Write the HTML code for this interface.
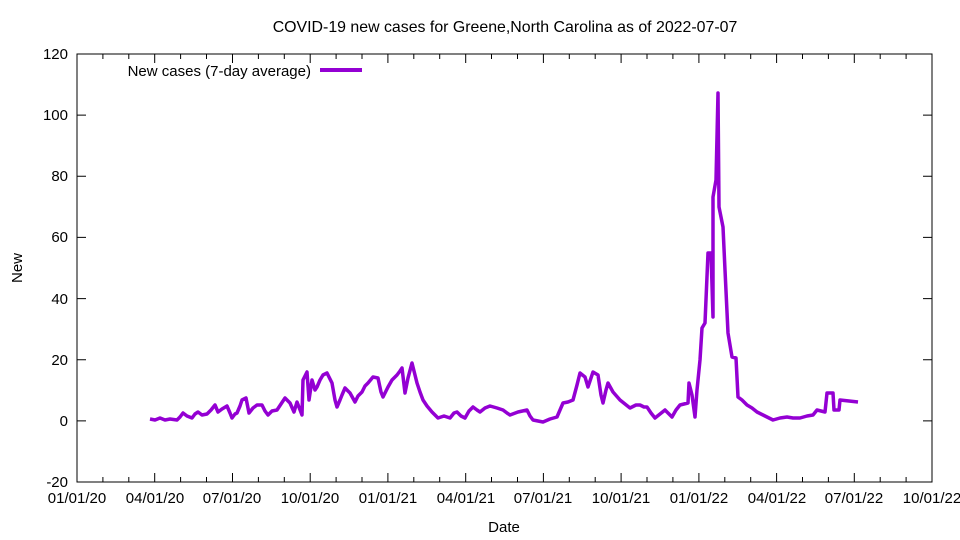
<!DOCTYPE html><html><head><style>body{margin:0;background:#fff}svg{display:block;font-family:"Liberation Sans",sans-serif}</style></head><body>
<svg width="960" height="540" xmlns="http://www.w3.org/2000/svg">
<rect width="960" height="540" fill="#fff"/>
<text x="505" y="32" font-size="15.9" text-anchor="middle">COVID-19 new cases for Greene,North Carolina as of 2022-07-07</text>
<g stroke="#000" stroke-width="1" fill="none">
<rect x="77" y="54" width="855" height="428"/>
<path d="M77 54v9M77 482v-9M154.7 54v9M154.7 482v-9M232.5 54v9M232.5 482v-9M310.2 54v9M310.2 482v-9M387.9 54v9M387.9 482v-9M465.7 54v9M465.7 482v-9M543.4 54v9M543.4 482v-9M621.1 54v9M621.1 482v-9M698.9 54v9M698.9 482v-9M776.6 54v9M776.6 482v-9M854.3 54v9M854.3 482v-9
M102.9 54v5M102.9 482v-5M128.8 54v5M128.8 482v-5M180.6 54v5M180.6 482v-5M206.5 54v5M206.5 482v-5M258.4 54v5M258.4 482v-5M284.3 54v5M284.3 482v-5M336.1 54v5M336.1 482v-5M362 54v5M362 482v-5M413.8 54v5M413.8 482v-5M439.7 54v5M439.7 482v-5M491.5 54v5M491.5 482v-5M517.5 54v5M517.5 482v-5M569.3 54v5M569.3 482v-5M595.2 54v5M595.2 482v-5M647 54v5M647 482v-5M672.9 54v5M672.9 482v-5M724.8 54v5M724.8 482v-5M750.7 54v5M750.7 482v-5M802.5 54v5M802.5 482v-5M828.4 54v5M828.4 482v-5M880.2 54v5M880.2 482v-5M906.1 54v5M906.1 482v-5
M77 115.1h9M932 115.1h-9M77 176.3h9M932 176.3h-9M77 237.4h9M932 237.4h-9M77 298.6h9M932 298.6h-9M77 359.7h9M932 359.7h-9M77 420.9h9M932 420.9h-9"/>
</g>
<g font-size="15" text-anchor="end">
<text x="68" y="59">120</text><text x="68" y="120">100</text><text x="68" y="181">80</text><text x="68" y="242">60</text><text x="68" y="304">40</text><text x="68" y="365">20</text><text x="68" y="426">0</text><text x="68" y="487">-20</text>
</g>
<g font-size="15" text-anchor="middle">
<text x="77" y="503">01/01/20</text><text x="155" y="503">04/01/20</text><text x="232" y="503">07/01/20</text><text x="310" y="503">10/01/20</text><text x="388" y="503">01/01/21</text><text x="466" y="503">04/01/21</text><text x="543" y="503">07/01/21</text><text x="621" y="503">10/01/21</text><text x="699" y="503">01/01/22</text><text x="777" y="503">04/01/22</text><text x="854" y="503">07/01/22</text><text x="932" y="503">10/01/22</text>
<text x="504" y="532">Date</text>
<text x="22" y="268" transform="rotate(-90 22 268)">New</text>
</g>
<text x="311" y="76" font-size="15" text-anchor="end">New cases (7-day average)</text>
<path d="M320 70h42" stroke="#9400d3" stroke-width="4"/>
<polyline fill="none" stroke="#9400d3" stroke-width="3.5" stroke-linejoin="round" points="150,419 155,420 160,418 165,420 170,419 177,420 180,417 183,413 187,416 192,418 195,414 198,412 202,415 207,414 211,410 215,405 218,412 222,409 227,406 230,413 232,418 235,414 237,413 240,406 242,400 246,398 249,413 253,408 257,405 262,405 265,411 268,415 272,411 277,410 281,404 285,398 290,403 294,412 297,402 302,415 303,380 307,372 309,400 312,380 315,390 317,387 320,380 323,375 327,373 332,383 335,400 337,407 340,400 342,395 345,388 350,393 355,402 358,396 362,392 365,386 368,383 373,377 378,378 381,392 383,397 388,387 392,380 397,375 400,371 402,368 405,393 408,378 412,363 415,375 417,383 420,392 423,400 427,406 432,412 438,418 444,416 450,418 454,413 457,412 461,416 465,418 469,411 473,407 477,410 480,412 485,408 490,406 497,408 503,410 507,413 510,415 518,412 527,410 530,416 533,420 538,421 543,422 550,419 557,417 560,410 563,403 568,402 573,400 577,385 580,373 585,377 588,387 593,372 598,375 601,395 603,403 606,390 608,383 613,392 620,400 625,404 630,408 636,405 640,405 644,407 647,407 651,413 655,418 660,414 665,410 669,414 672,417 676,410 680,405 688,403 689,383 692,395 695,417 697,390 700,360 702,328 705,323 708,253 711,253 713,317 713,197 716,180 718,93 719,207 723,227 725,270 728,333 732,357 736,358 738,397 742,400 747,405 752,408 757,412 765,416 773,420 780,418 787,417 793,418 800,418 807,416 813,415 817,410 825,412 827,393 833,393 834,410 839,410 840,400 858,402"/>
</svg>
</body></html>
